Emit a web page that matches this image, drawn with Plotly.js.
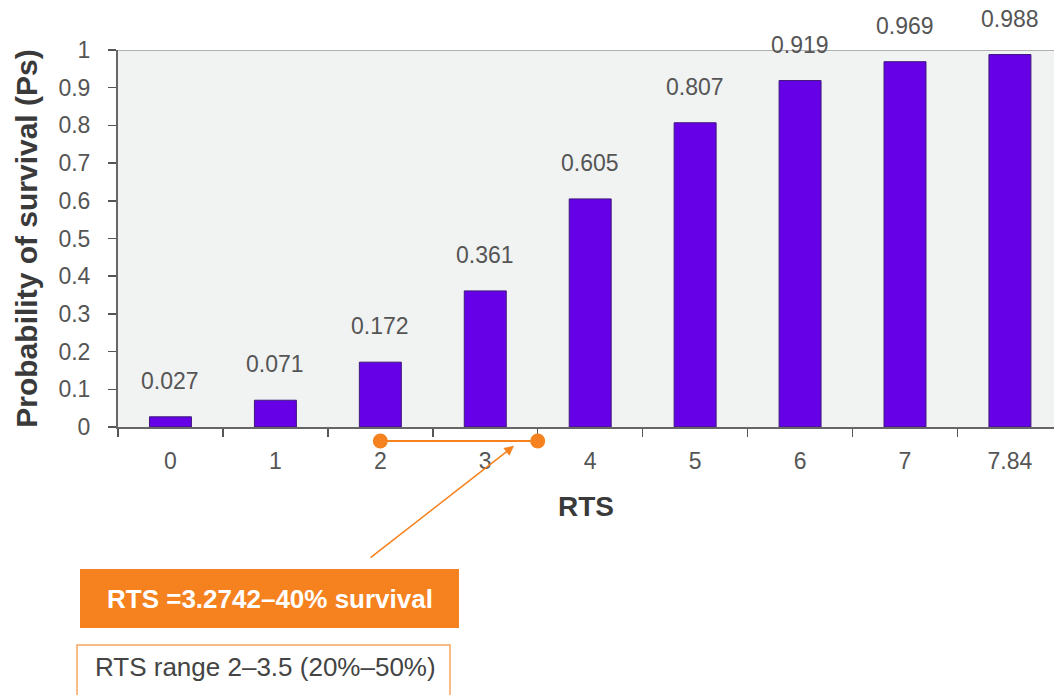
<!DOCTYPE html>
<html>
<head>
<meta charset="utf-8">
<script src="https://cdn.plot.ly/plotly-3.0.1.min.js"></script>
<style>
  html, body { margin: 0; padding: 0; background: #ffffff; }
  #chart { width: 1054px; height: 695px; }
</style>
</head>
<body>
<div id="chart"></div>
<script>
// ---- data ----
const rtsCategories = ["0", "1", "2", "3", "4", "5", "6", "7", "7.84"];
const survivalProb = [0.027, 0.071, 0.172, 0.361, 0.605, 0.807, 0.919, 0.969, 0.988];
const valueLabels = ["0.027", "0.071", "0.172", "0.361", "0.605", "0.807", "0.919", "0.969", "0.988"];
const yTickVals = [0, 0.1, 0.2, 0.3, 0.4, 0.5, 0.6, 0.7, 0.8, 0.9, 1];
const yTickText = ["0", "0.1", "0.2", "0.3", "0.4", "0.5", "0.6", "0.7", "0.8", "0.9", "1"];
const rtsRange = [2, 3.5];          // RTS range 2–3.5
const rtsPoint = 3.2742;            // RTS = 3.2742 → 40% survival
const calloutText = "RTS =3.2742–40% survival";
const rangeText = "RTS range 2–3.5 (20%–50%)";

// ---- style ----
const ORANGE = "#F5821F";
const BAR = "#6600E6";
const BAR_LINE = "#3C1A7A";
const TXT = "#555555";
const FONT = "Liberation Sans, Arial, sans-serif";
const XRANGE = [-0.5, 8.42];
const RANGE_Y = -0.037;   // paper height of the range bracket under the axis

const bars = {
  type: "bar",
  x: rtsCategories,
  y: survivalProb,
  width: 0.4,
  marker: { color: BAR, line: { color: BAR_LINE, width: 1 } },
  hoverinfo: "x+y",
  showlegend: false
};

const barLabels = rtsCategories.map((c, i) => ({
  x: i,
  y: survivalProb[i],
  xref: "x2",
  yref: "y",
  text: valueLabels[i],
  showarrow: false,
  yanchor: "bottom",
  yshift: 21,
  font: { family: FONT, size: 23, color: TXT }
}));

const annotations = barLabels.concat([
  {
    x: rtsPoint, y: -0.05, xref: "x2", yref: "paper",
    ax: -145, ay: 113, axref: "pixel", ayref: "pixel",
    showarrow: true, arrowhead: 2, arrowsize: 1.3, arrowwidth: 1.5,
    arrowcolor: ORANGE, text: "", standoff: 0
  },
  {
    x: 0.162, y: -0.456, xref: "paper", yref: "paper",
    text: "<b>" + calloutText + "</b>", showarrow: false,
    font: { family: FONT, size: 26, color: "#ffffff" },
    xanchor: "center", yanchor: "middle"
  },
  {
    x: 0.158, y: -0.637, xref: "paper", yref: "paper",
    text: rangeText, showarrow: false,
    font: { family: FONT, size: 26, color: "#444444" },
    xanchor: "center", yanchor: "middle"
  }
]);

const shapes = [
  { type: "line", xref: "paper", yref: "y", x0: 0, x1: 1, y0: 1, y1: 1,
    line: { color: "#9a9a9a", width: 1.5 }, layer: "below" },
  // range bracket
  { type: "line", xref: "x2", yref: "paper", x0: rtsRange[0], x1: rtsRange[1], y0: RANGE_Y, y1: RANGE_Y,
    line: { color: ORANGE, width: 2 } }
].concat(rtsRange.map(v => ({
    type: "circle", xref: "x2", yref: "paper",
    xsizemode: "pixel", ysizemode: "pixel",
    xanchor: v, yanchor: RANGE_Y,
    x0: -7.5, x1: 7.5, y0: -7.5, y1: 7.5,
    fillcolor: ORANGE, line: { width: 0 }
  }))).concat([
  { type: "rect", xref: "paper", yref: "paper", x0: -0.0406, x1: 0.3643, y0: -0.5332, y1: -0.3767,
    fillcolor: ORANGE, line: { width: 0 } },
  { type: "rect", xref: "paper", yref: "paper", x0: -0.0438, x1: 0.3547, y0: -0.75, y1: -0.5782,
    fillcolor: "#ffffff", line: { color: "#F7A660", width: 1.5 } }
]);

const layout = {
  width: 1054,
  height: 695,
  margin: { l: 118, r: 0, t: 50, b: 268 },
  paper_bgcolor: "#ffffff",
  plot_bgcolor: "#F1F2F2",
  font: { family: FONT, color: TXT },
  bargap: 0.6,
  xaxis: {
    type: "category",
    range: XRANGE,
    tickson: "boundaries",
    ticks: "outside",
    ticklen: 8,
    tickwidth: 1.5,
    tickcolor: "#555555",
    showline: true,
    linecolor: "#666666",
    linewidth: 2,
    showgrid: false,
    zeroline: false,
    ticklabelstandoff: 12,
    tickfont: { family: FONT, size: 23, color: TXT },
    title: { text: "<b>RTS</b>", font: { family: FONT, size: 28, color: "#3a3a3a" }, standoff: 24 },
    fixedrange: true
  },
  xaxis2: {
    type: "linear",
    overlaying: "x",
    anchor: "y",
    side: "bottom",
    range: XRANGE,
    showline: false,
    showgrid: false,
    zeroline: false,
    showticklabels: false,
    ticks: "",
    fixedrange: true
  },
  yaxis: {
    range: [0, 1],
    tickvals: yTickVals,
    ticktext: yTickText,
    ticks: "outside",
    ticklen: 8,
    tickwidth: 1.5,
    tickcolor: "#555555",
    showline: true,
    linecolor: "#666666",
    linewidth: 2,
    showgrid: false,
    zeroline: false,
    ticklabelstandoff: 13,
    tickfont: { family: FONT, size: 23, color: TXT },
    title: { text: "<b>Probability of survival (Ps)</b>", font: { family: FONT, size: 30, color: "#3a3a3a" }, standoff: 12 },
    fixedrange: true
  },
  annotations: annotations,
  shapes: shapes,
  showlegend: false
};

Plotly.newPlot("chart", [bars], layout, { displayModeBar: false, staticPlot: true });
</script>
</body>
</html>
